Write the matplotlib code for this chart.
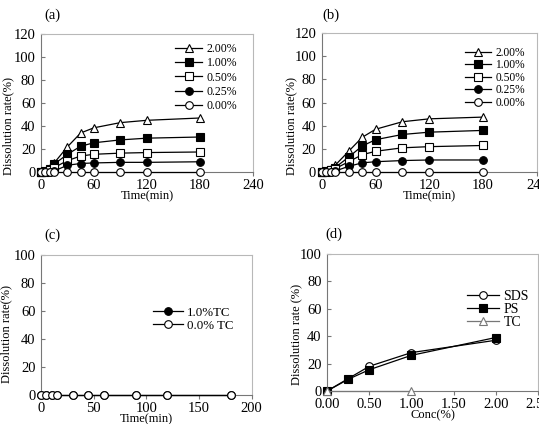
import matplotlib.pyplot as plt
import numpy as np

plt.rcParams['font.family'] = ['Liberation Serif', 'DejaVu Serif']
plt.rcParams['font.size'] = 9.5

# make data
t = [0, 5, 10, 15, 30, 45, 60, 90, 120, 180]
conc_lbls = ["2.00%", "1.00%", "0.50%", "0.25%", "0.00%"]

a_200 = [0, 1, 4, 8, 22, 34, 38.5, 43, 45, 47]
a_100 = [0, 1, 3, 7, 15.5, 22.5, 25.5, 28, 29.5, 30.5]
a_050 = [0, 0.5, 2, 4, 10, 14, 15.5, 16.5, 17, 17.5]
a_025 = [0, 0, 0.5, 1, 6, 7.5, 8, 8.5, 8.5, 9]
a_000 = [0, 0, 0, 0, 0, 0, 0, 0, 0, 0]

b_200 = [0, 1, 3, 6, 18, 30, 37, 43.5, 46, 47.5]
b_100 = [0, 1, 2, 4, 13, 22.5, 28, 32.5, 34.5, 36]
b_050 = [0, 0.5, 1.5, 3, 9, 15, 18, 21, 22, 23]
b_025 = [0, 0, 0.5, 1, 5, 8, 9, 10, 10.5, 10.5]
b_000 = [0, 0, 0, 0, 0, 0, 0, 0, 0, 0]

c_lbls = ["1.0%TC", "0.0% TC"]
c_10 = [0, 0, 0, 0, 0, 0, 0, 0, 0, 0]
c_00 = [0, 0, 0, 0, 0, 0, 0, 0, 0, 0]

d_lbls = ["SDS", "PS", "TC"]
conc = [0, 0.25, 0.5, 1.0, 2.0]
d_sds = [0, 9, 18, 28, 37]
d_ps = [0, 8.5, 15.5, 26, 39]
conc_tc = [0, 1.0]
d_tc = [0, 0]

# marker styles: (marker, face)
styles = [('^', 'white'), ('s', 'black'), ('s', 'white'), ('o', 'black'), ('o', 'white')]

W, H = 539, 424


def style_axes(ax):
  for s in ['top', 'right']:
    ax.spines[s].set_color('#b8b8b8')
  for s in ['left', 'bottom']:
    ax.spines[s].set_color('#777777')
  ax.tick_params(axis='y', direction='in', length=3, color='#777777', pad=4,
                 labelsize=10.5)
  ax.tick_params(axis='x', direction='out', length=3, color='#777777', pad=2,
                 labelsize=10.5)


def draw_series(ax, x, ys, lbls, sty):
  for y, lb, (m, fc) in zip(ys, lbls, sty):
    ax.plot(x, y, marker=m, mfc=fc, mec='black', color='black', lw=0.9,
            ms=5.5, mew=0.8, label=lb, clip_on=False, zorder=3)


def put_legend(ax, px, py, fs, sp):
  # px, py: upper right corner of the legend in picture pixels
  ax.legend(loc='upper right', bbox_to_anchor=(px / W, 1 - py / H),
            bbox_transform=fig.transFigure, frameon=False, borderpad=0,
            handlelength=2.3, labelspacing=sp, handletextpad=0.35, fontsize=fs)


fig = plt.figure(figsize=(W / 100, H / 100), dpi=100)

ax_a = fig.add_axes([0.076, 0.594, 0.393, 0.326])
ax_b = fig.add_axes([0.597, 0.594, 0.399, 0.328])
ax_c = fig.add_axes([0.076, 0.068, 0.391, 0.331])
ax_d = fig.add_axes([0.607, 0.078, 0.391, 0.323])

draw_series(ax_a, t, [a_200, a_100, a_050, a_025, a_000], conc_lbls, styles)
draw_series(ax_b, t, [b_200, b_100, b_050, b_025, b_000], conc_lbls, styles)
for ax in (ax_a, ax_b):
  ax.set_xlim(0, 240)
  ax.set_ylim(0, 120)
  ax.set_xticks([0, 60, 120, 180, 240])
  ax.set_yticks(np.arange(0, 121, 20))
  ax.set_xlabel('Time(min)', labelpad=-1, fontsize=9)
  ax.set_ylabel('Dissolution rate(%)', fontsize=9)
  style_axes(ax)
ax_a.yaxis.set_label_coords(-0.128, 0.333)
ax_b.yaxis.set_label_coords(-0.112, 0.333)
put_legend(ax_a, 243, 37, 8.5, 0.2)
put_legend(ax_b, 531, 41, 8.3, 0.05)

draw_series(ax_c, t, [c_10, c_00], c_lbls, [('o', 'black'), ('o', 'white')])
ax_c.set_xlim(0, 200)
ax_c.set_ylim(0, 100)
ax_c.set_xticks([0, 50, 100, 150, 200])
ax_c.set_yticks(np.arange(0, 101, 20))
ax_c.set_xlabel('Time(min)', labelpad=-1, fontsize=9)
ax_c.set_ylabel('Dissolution rate(%)', fontsize=9)
ax_c.yaxis.set_label_coords(-0.137, 0.436)
style_axes(ax_c)
put_legend(ax_c, 240, 300, 9.3, 0.1)

draw_series(ax_d, conc, [d_sds, d_ps], d_lbls[:2], [('o', 'white'), ('s', 'black')])
ax_d.plot(conc_tc, d_tc, marker='^', mfc='white', mec='#777777', color='#777777',
          lw=0.9, ms=5.5, mew=0.8, label=d_lbls[2], clip_on=False, zorder=4)
ax_d.set_xlim(0, 2.5)
ax_d.set_ylim(0, 100)
ax_d.set_xticks([0, 0.5, 1.0, 1.5, 2.0, 2.5])
ax_d.set_xticklabels(['%.2f' % v for v in [0, 0.5, 1.0, 1.5, 2.0]] + ['2.50'])
ax_d.set_yticks(np.arange(0, 101, 20))
ax_d.set_xlabel('Conc(%)', labelpad=-1, fontsize=9)
ax_d.set_ylabel('Dissolution rate (%)', fontsize=9)
ax_d.yaxis.set_label_coords(-0.118, 0.416)
style_axes(ax_d)
put_legend(ax_d, 536, 283, 10, 0.0)

fig.text(52 / W, 1 - 15 / H, '(a)', ha='center', va='center', fontsize=10.5)
fig.text(331 / W, 1 - 15 / H, '(b)', ha='center', va='center', fontsize=10.5)
fig.text(52 / W, 1 - 235 / H, '(c)', ha='center', va='center', fontsize=10.5)
fig.text(334 / W, 1 - 234 / H, '(d)', ha='center', va='center', fontsize=10.5)

fig.savefig('out.png', dpi=100)
